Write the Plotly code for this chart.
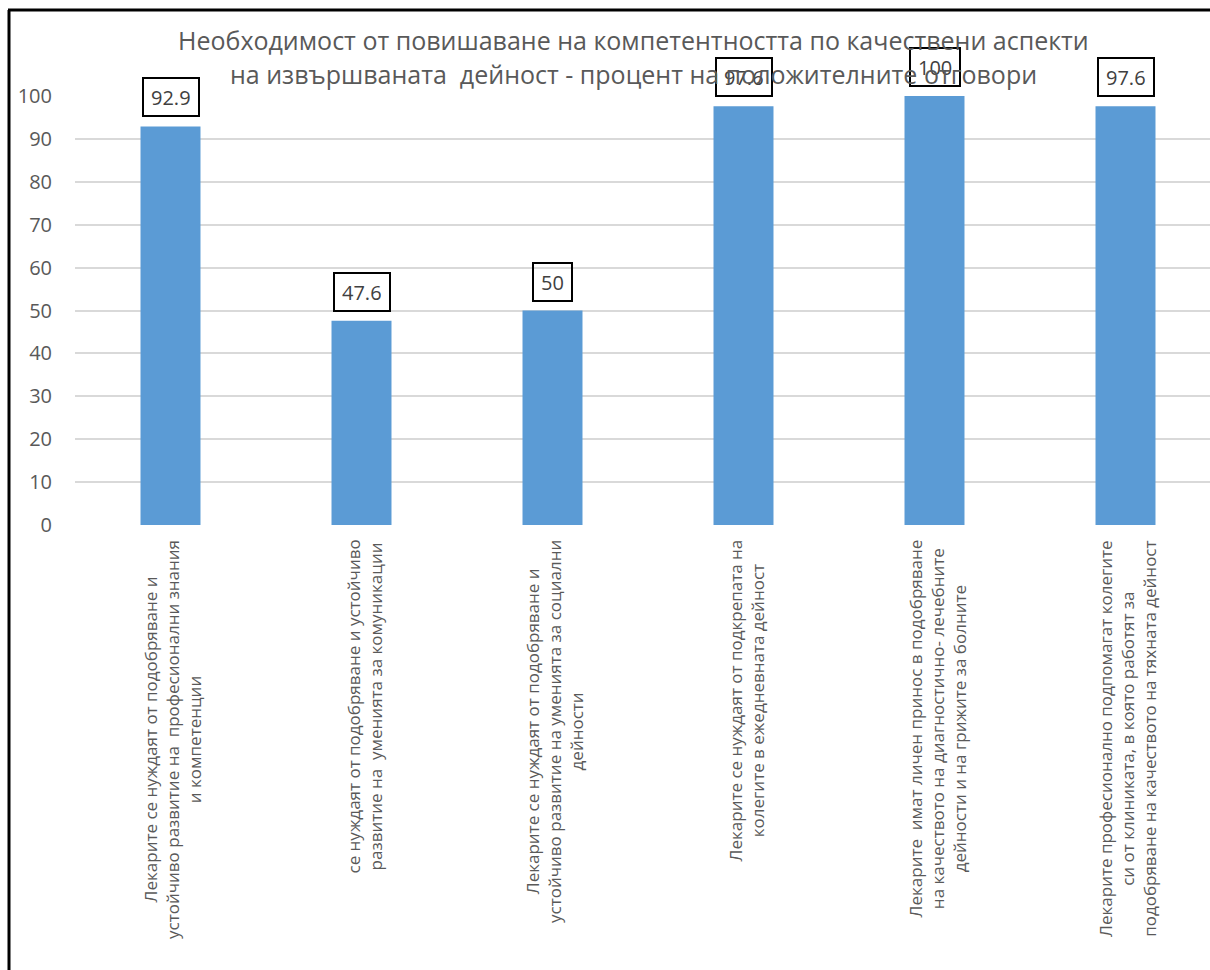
import plotly.graph_objects as go

# ---- data ----
categories = [
    "Лекарите се нуждаят от подобряване и<br>устойчиво развитие на  професионални знания<br>и компетенции",
    "се нуждаят от подобряване и устойчиво<br>развитие на  уменията за комуникации",
    "Лекарите се нуждаят от подобряване и<br>устойчиво развитие на уменията за социални<br>дейности",
    "Лекарите се нуждаят от подкрепата на<br>колегите в ежедневната дейност",
    "Лекарите  имат личен принос в подобряване<br>на качеството на диагностично- лечебните<br>дейности и на грижите за болните",
    "Лекарите професионално подпомагат колегите<br>си от клиниката, в която работят за<br>подобряване на качеството на тяхната дейност",
]
values = [92.9, 47.6, 50, 97.6, 100, 97.6]
y_ticks = [0, 10, 20, 30, 40, 50, 60, 70, 80, 90, 100]
title_lines = [
    "Необходимост от повишаване на компетентността по качествени аспекти",
    "на извършваната  дейност - процент на положителните отговори",
]

# ---- layout geometry (pixels) ----
W, H = 1210, 970
ML, MR, MT, MB = 75, 0, 96, 445
PLOT_W = W - ML - MR
PLOT_H = H - MT - MB
CAT_PX = 191  # horizontal room per category

BAR = "#5B9BD5"
GRID = "#D9D9D9"
TXT = "#595959"
FONT = "Open Sans"


def px_x(px):
    return (px - ML) / PLOT_W


def px_y(py):
    return (H - MB - py) / PLOT_H


xs = list(range(len(values)))

fig = go.Figure()
fig.add_trace(go.Bar(
    x=xs, y=values, width=0.314,
    marker=dict(color=BAR, line=dict(width=0)),
    hoverinfo="skip",
))

annotations = []
# value labels in framed boxes above the bars
for x, v in zip(xs, values):
    annotations.append(dict(
        x=x, y=v, xref="x", yref="y",
        text=f"{v:g}", showarrow=False,
        xanchor="center", yanchor="middle", yshift=29,
        font=dict(family=FONT, size=20, color="#404040"),
        bordercolor="black", borderwidth=2, borderpad=7, height=22,
    ))

# rotated category labels under the axis
for x, c in zip(xs, categories):
    annotations.append(dict(
        x=x, y=0, xref="x", yref="paper",
        text=c, showarrow=False, textangle=-90, align="center",
        xanchor="center", yanchor="top", yshift=-13, xshift=2,
        font=dict(family=FONT, size=17, color=TXT),
    ))

# two-line chart title
for line, py in zip(title_lines, [40, 74]):
    annotations.append(dict(
        x=px_x(633), y=px_y(py), xref="paper", yref="paper",
        text=line, showarrow=False, xanchor="center", yanchor="middle",
        font=dict(family=FONT, size=25, color=TXT),
    ))

# chart frame (left and top edges)
shapes = [
    dict(type="line", xref="paper", yref="paper",
         x0=px_x(9), x1=px_x(9), y0=px_y(10), y1=px_y(H + 5),
         line=dict(color="black", width=3)),
    dict(type="line", xref="paper", yref="paper",
         x0=px_x(8), x1=px_x(W + 5), y0=px_y(10), y1=px_y(10),
         line=dict(color="black", width=3)),
]

fig.update_layout(
    width=W, height=H,
    margin=dict(l=ML, r=MR, t=MT, b=MB, pad=0),
    paper_bgcolor="white", plot_bgcolor="white",
    showlegend=False,
    annotations=annotations, shapes=shapes,
    xaxis=dict(
        range=[-0.5, -0.5 + PLOT_W / CAT_PX],
        showticklabels=False, showgrid=False, zeroline=False,
        showline=False, ticks="", fixedrange=True,
    ),
    yaxis=dict(
        range=[0, 100], tickvals=y_ticks,
        showgrid=True, gridcolor=GRID, gridwidth=2,
        zeroline=False, showline=False, ticks="",
        tickfont=dict(family=FONT, size=20, color=TXT),
        ticklabelstandoff=22, fixedrange=True,
    ),
)

fig.write_html("out.html", config={"displayModeBar": False})
